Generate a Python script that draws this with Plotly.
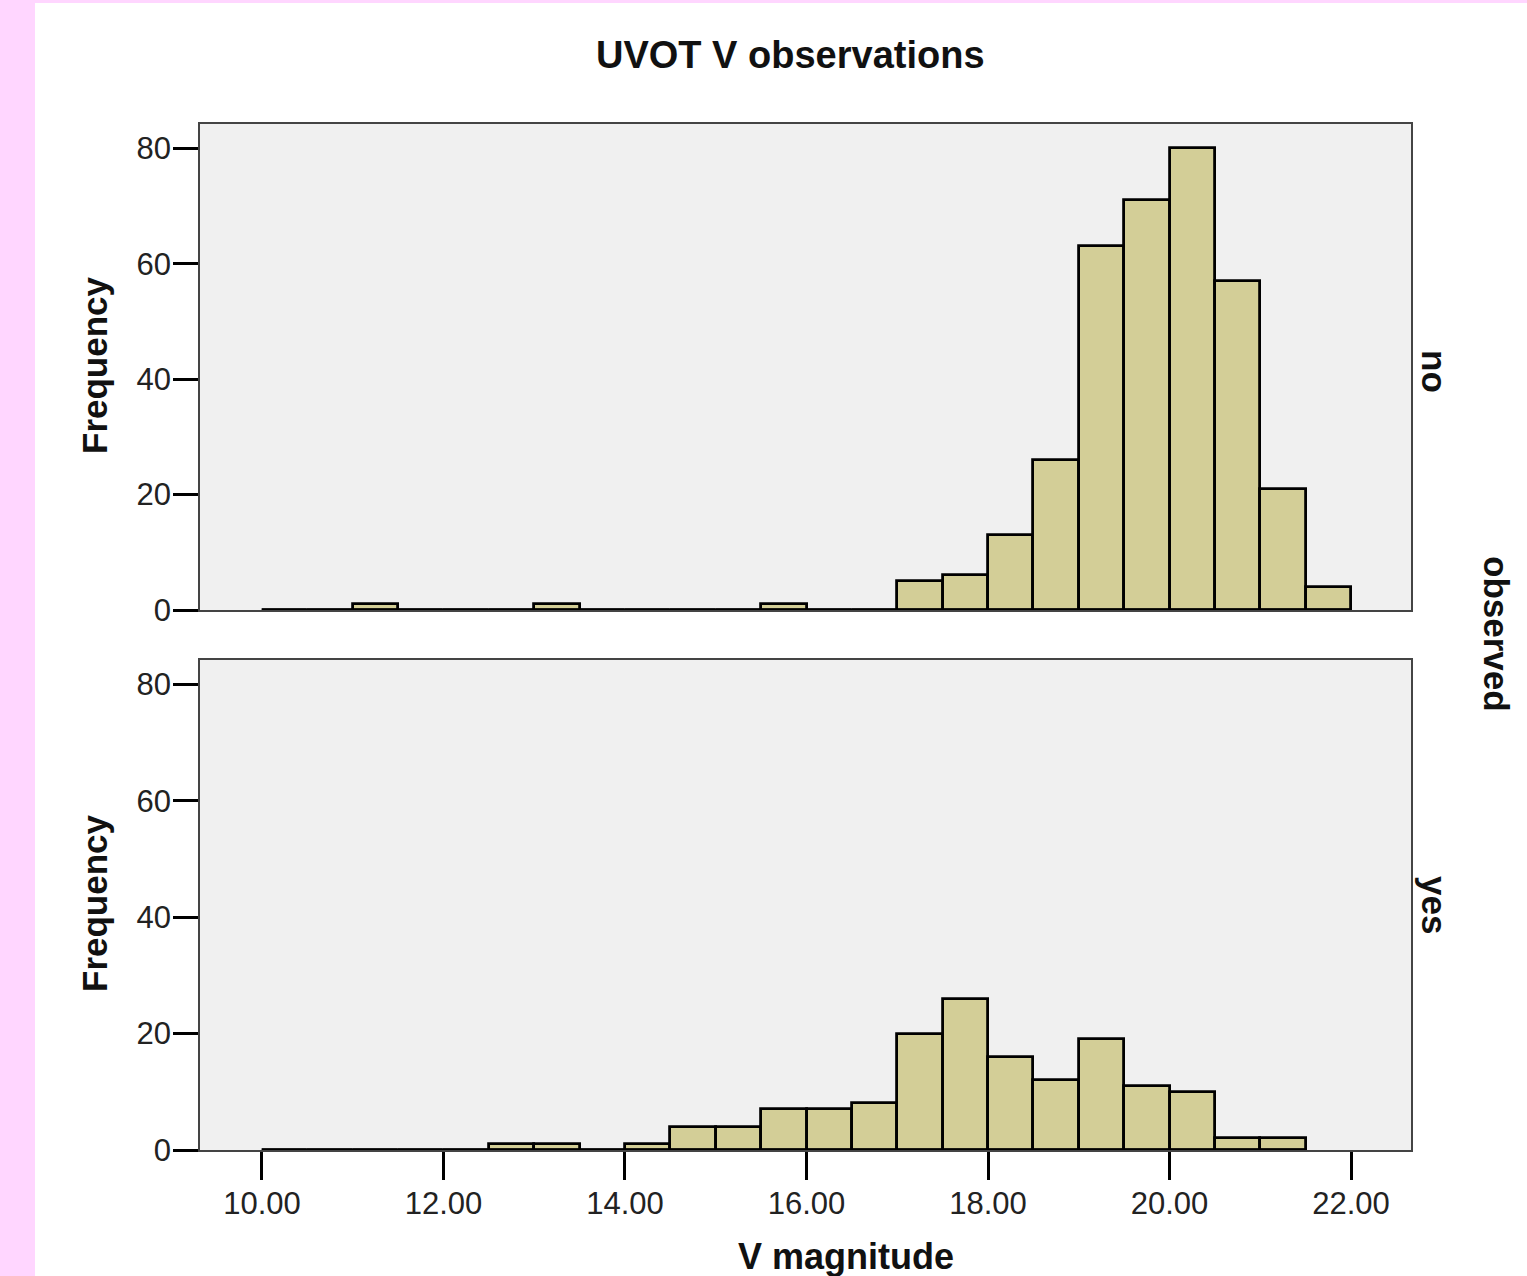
import plotly.graph_objects as go

# ---- data ----
bin_start = 10.0
bin_width = 0.5
counts_no = [0, 0, 1, 0, 0, 0, 1, 0, 0, 0, 0, 1, 0, 0, 5, 6, 13, 26, 63, 71, 80, 57, 21, 4]
counts_yes = [0, 0, 0, 0, 0, 1, 1, 0, 1, 4, 4, 7, 7, 8, 20, 26, 16, 12, 19, 11, 10, 2, 2]
panel_labels = ["no", "yes"]
x_tick_vals = [10, 12, 14, 16, 18, 20, 22]
x_tick_text = ["10.00", "12.00", "14.00", "16.00", "18.00", "20.00", "22.00"]
y_tick_vals = [0, 20, 40, 60, 80]

BAR = "#d3ce97"
FONT = "Liberation Sans, Arial, sans-serif"

fig = go.Figure()

for i, counts in enumerate([counts_no, counts_yes]):
    xa = "x" if i == 0 else "x2"
    ya = "y" if i == 0 else "y2"
    centers = [bin_start + bin_width * (k + 0.5) for k in range(len(counts))]
    edges_end = bin_start + bin_width * len(counts)
    # zero baseline of the histogram
    fig.add_trace(go.Scatter(x=[bin_start, edges_end], y=[0, 0], mode="lines",
                             line=dict(color="black", width=3), xaxis=xa, yaxis=ya,
                             showlegend=False, hoverinfo="skip"))
    fig.add_trace(go.Bar(x=centers, y=counts, width=bin_width,
                         marker=dict(color=BAR, line=dict(color="black", width=2.8)),
                         xaxis=xa, yaxis=ya, showlegend=False))

axis_common = dict(showline=True, mirror=True, linecolor="#444", linewidth=1.5,
                   showgrid=False, zeroline=False)
xr = [9.317, 22.661]
yr = [0, 84.2]
TICKF = dict(size=31, color="#222")

fig.update_layout(
    width=1527, height=1276,
    margin=dict(l=200, r=116, t=124, b=126),
    paper_bgcolor="white", plot_bgcolor="#f0f0f0",
    font=dict(family=FONT, color="#222"),
    bargap=0,
    xaxis=dict(domain=[0, 1], anchor="y", range=xr, showticklabels=False, ticks="",
               **axis_common),
    yaxis=dict(domain=[0.5263, 1], anchor="x", range=yr, tickvals=y_tick_vals,
               ticks="outside", ticklen=25, tickwidth=2.5, tickcolor="black",
               tickfont=TICKF, ticklabelstandoff=-4, **axis_common),
    xaxis2=dict(domain=[0, 1], anchor="y2", range=xr, tickvals=x_tick_vals,
                ticktext=x_tick_text, ticks="outside", ticklen=28, tickwidth=3,
                tickcolor="black", tickfont=TICKF, ticklabelstandoff=-3, **axis_common),
    yaxis2=dict(domain=[0, 0.4776], anchor="x2", range=yr, tickvals=y_tick_vals,
                ticks="outside", ticklen=25, tickwidth=2.5, tickcolor="black",
                tickfont=TICKF, ticklabelstandoff=-4, **axis_common),
)

H = 1026.0
W = 1211.0
def px_x(p):
    return (p - 200) / W
def px_y(p):
    return (1150 - p) / H

ann = []
ann.append(dict(text="<b>UVOT V observations</b>", x=px_x(790), y=px_y(55),
                font=dict(size=38, color="#111")))
ann.append(dict(text="<b>V magnitude</b>", x=px_x(846), y=px_y(1256),
                font=dict(size=36, color="#111")))
for yc in [365, 903]:
    ann.append(dict(text="<b>Frequency</b>", x=px_x(94), y=px_y(yc), textangle=-90,
                    font=dict(size=35, color="#111")))
ann.append(dict(text="<b>" + panel_labels[0] + "</b>", x=px_x(1435), y=px_y(372),
                textangle=90, font=dict(size=35, color="#111")))
ann.append(dict(text="<b>" + panel_labels[1] + "</b>", x=px_x(1435), y=px_y(905),
                textangle=90, font=dict(size=35, color="#111")))
ann.append(dict(text="<b>observed</b>", x=px_x(1497), y=px_y(634),
                textangle=90, font=dict(size=35, color="#111")))
for a in ann:
    a.update(xref="paper", yref="paper", showarrow=False, xanchor="center", yanchor="middle")
fig.update_layout(annotations=ann)

# pink page edges
fig.update_layout(shapes=[
    dict(type="rect", xref="paper", yref="paper", x0=px_x(-10), x1=px_x(35),
         y0=px_y(1290), y1=px_y(-10), fillcolor="#ffd6ff", line=dict(width=0), layer="above"),
    dict(type="rect", xref="paper", yref="paper", x0=px_x(-10), x1=px_x(1540),
         y0=px_y(3), y1=px_y(-10), fillcolor="#ffd6ff", line=dict(width=0), layer="above"),
])

fig.write_html("out.html", config={"displayModeBar": False},
               post_script="document.body.style.margin='0';document.body.style.overflow='hidden';")
